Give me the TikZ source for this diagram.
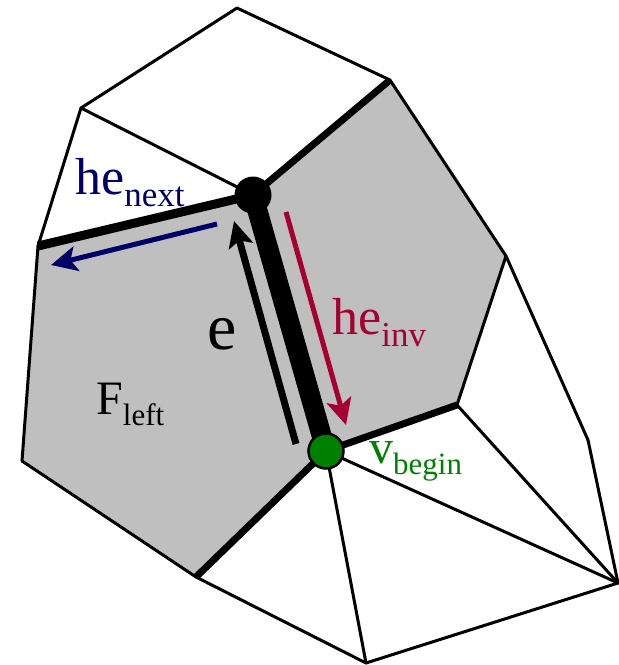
\documentclass[tikz,border=0pt]{standalone}
\usepackage{fontspec}
\setmainfont{Liberation Serif}
\usetikzlibrary{arrows.meta}
\definecolor{cnavy}{HTML}{000066}
\definecolor{cred}{HTML}{A50034}
\definecolor{cgreen}{HTML}{008000}
\definecolor{cface}{HTML}{BFBFBF}
\newcommand{\sublabel}[4]{{\fontsize{#3}{#3}\selectfont #1}{\fontsize{#4}{#4}\selectfont\raisebox{-0.36em}{#2}}}
\tikzset{
  x=1pt, y=-1pt,
  thinedge/.style={line width=3pt, line cap=round, line join=round},
  midedge/.style={line width=7pt},
  fatedge/.style={line width=9pt},
  arrow/.style={-{Stealth[length=26pt, width=25pt, inset=6pt]}, line width=#1},
  arrow/.default=5pt,
  vdot/.style={circle, inner sep=0pt, minimum size=#1},
  lbl/.style={anchor=base west, inner sep=0pt},
}
\begin{document}
\begin{tikzpicture}
  \useasboundingbox (0,0) rectangle (619,665);
  \coordinate (vtop) at (237,8);
  \coordinate (vnw) at (81,108);
  \coordinate (vne) at (390,80);
  \coordinate (vhub) at (253,195);
  \coordinate (vwest) at (38,246);
  \coordinate (vsw) at (22,461);
  \coordinate (vsouth) at (196,577);
  \coordinate (vbeg) at (326,451);
  \coordinate (vin) at (457,405);
  \coordinate (veast) at (506,256);
  \coordinate (vfar) at (588,440);
  \coordinate (vcorner) at (618,583);
  \coordinate (vbot) at (366,663);
  \fill[cface] (vwest) -- (vhub) -- (vne) -- (veast) -- (vin) -- (vbeg) -- (vsouth) -- (vsw) -- cycle;
  \foreach \a/\b in {vsw/vwest, vwest/vnw, vnw/vtop, vtop/vne, vnw/vhub, vne/veast, veast/vin,
                     vsw/vsouth, vsouth/vbot, vbot/vcorner, vbeg/vbot, vbeg/vcorner, vin/vcorner,
                     veast/vfar, vfar/vcorner}
    \draw[thinedge] (\a) -- (\b);
  \foreach \a/\b in {vhub/vne, vbeg/vin, vbeg/vsouth}
    \draw[midedge] (\a) -- (\b);
  \draw[fatedge] (vwest) -- (vhub);
  \draw[line width=20pt] (vhub) -- (vbeg);
  \node[vdot=37pt, fill=black] (hubdot) at (vhub) {};
  \node[vdot=35pt, fill=cgreen, draw=black, line width=2.5pt] (begdot) at (vbeg) {};
  % half-edge arrows
  \coordinate (etail) at (296,444);
  \coordinate (ehead) at (234,221);
  \coordinate (nexttail) at (217,224);
  \coordinate (nexthead) at (51,265);
  \coordinate (invtail) at (286,212);
  \coordinate (invhead) at (346,425);
  \draw[arrow=7pt, black] (etail) -- (ehead);
  \draw[arrow, cnavy] (nexttail) -- (nexthead);
  \draw[arrow, cred] (invtail) -- (invhead);
  \node[lbl, text=cnavy] (henext) at (75,194) {\sublabel{he}{next}{52}{35}};
  \node[lbl, text=cred] (heinv) at (332,334) {\sublabel{he}{inv}{52}{35}};
  \node[lbl, text=cgreen] (vbegin) at (369,463) {\sublabel{v}{begin}{48}{31}};
  \node[lbl] (fleft) at (96,414) {\sublabel{F}{left}{48}{31}};
  \node[lbl] (elabel) at (207,349) {\fontsize{66}{66}\selectfont e};
\end{tikzpicture}
\end{document}
